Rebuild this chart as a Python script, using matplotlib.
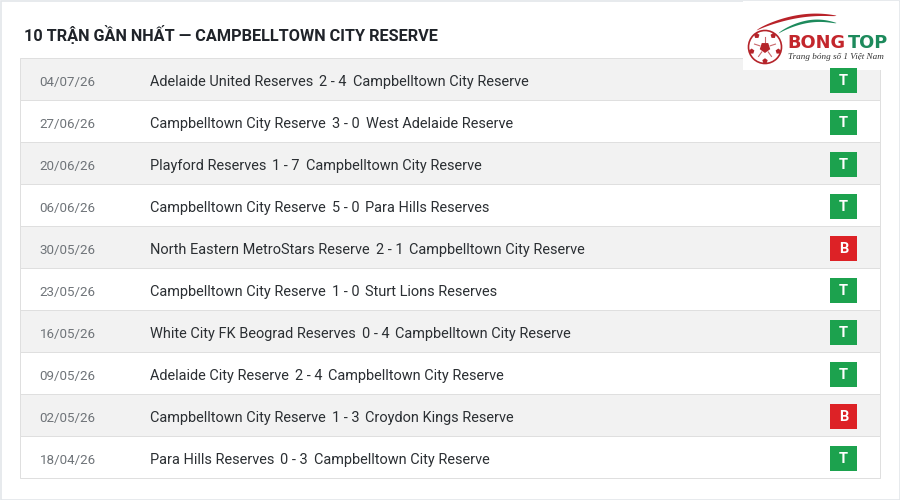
import numpy as np
import matplotlib
matplotlib.use('Agg')
import matplotlib.pyplot as plt
from matplotlib.patches import Rectangle, Circle, RegularPolygon

plt.rcParams['font.family'] = ['Roboto', 'DejaVu Sans']

TITLE = "10 TRẬN GẦN NHẤT — CAMPBELLTOWN CITY RESERVE"
dates = ["04/07/26", "27/06/26", "20/06/26", "06/06/26", "30/05/26",
         "23/05/26", "16/05/26", "09/05/26", "02/05/26", "18/04/26"]
home = ["Adelaide United Reserves", "Campbelltown City Reserve", "Playford Reserves",
        "Campbelltown City Reserve", "North Eastern MetroStars Reserve",
        "Campbelltown City Reserve", "White City FK Beograd Reserves",
        "Adelaide City Reserve", "Campbelltown City Reserve", "Para Hills Reserves"]
scores = ["2 - 4", "3 - 0", "1 - 7", "5 - 0", "2 - 1", "1 - 0", "0 - 4", "2 - 4", "1 - 3", "0 - 3"]
away = ["Campbelltown City Reserve", "West Adelaide Reserve", "Campbelltown City Reserve",
        "Para Hills Reserves", "Campbelltown City Reserve", "Sturt Lions Reserves",
        "Campbelltown City Reserve", "Campbelltown City Reserve", "Croydon Kings Reserve",
        "Campbelltown City Reserve"]
results = ["T", "T", "T", "T", "B", "T", "T", "T", "B", "T"]

GREEN = '#1ca24e'
RED = '#dd2226'
BADGE = {"T": GREEN, "B": RED}


def draw_logo(ax):
    ax.add_patch(Rectangle((743, 1), 156, 69, fc='white', ec='none', zorder=5))
    # swooshes over the ball
    t = np.linspace(0, 1, 60)
    x = 756 + (836 - 756) * t
    y = 30 - 20 * np.sin(t * np.pi * 0.62) ** 0.8 + 4 * t
    ax.fill_between(x, y, y + 3 * np.sin(t * np.pi) ** 0.5, color='#b92229', lw=0, zorder=6)
    x = 778 + (836 - 778) * t
    y = 33 - 16 * np.sin(t * np.pi * 0.7) ** 0.8 + 3 * t
    ax.fill_between(x, y, y + 2.6 * np.sin(t * np.pi) ** 0.5, color='#1d8a5c', lw=0, zorder=6)
    # ball
    ax.add_patch(Circle((765, 47), 16.5, fc='white', ec='#b5242a', lw=1.2, zorder=6))
    ax.add_patch(RegularPolygon((765, 47.5), 5, radius=5.5, fc='#b5242a', ec='none', zorder=7))
    for a in np.arange(5) * 2 * np.pi / 5:
        dx, dy = np.sin(a), -np.cos(a)
        ax.plot([765 + 5.5 * dx, 765 + 11 * dx], [47.5 + 5.5 * dy, 47.5 + 11 * dy],
                color='#c9686c', lw=0.8, zorder=7)
        b = a + np.pi / 5
        px, py = 765 + 14 * np.sin(b), 47 - 14 * np.cos(b)
        ax.add_patch(RegularPolygon((px, py), 5, radius=2.8, orientation=b, fc='#b5242a', ec='none', zorder=7))
    ax.text(787.5, 41, "BONG", color='#c3262c', fontsize=12.8, fontweight='bold', family='DejaVu Sans',
            va='center_baseline', ha='left', zorder=8)
    ax.text(847.5, 41, "TOP", color='#1d8a5c', fontsize=12.8, fontweight='bold', family='DejaVu Sans',
            va='center_baseline', ha='left', zorder=8)
    ax.text(788, 57, "Trang bóng số 1 Việt Nam", color='#333333', fontsize=6.6, style='italic',
            family=['Liberation Serif', 'DejaVu Serif'], va='center', ha='left', zorder=8)


def main():
    fig = plt.figure(figsize=(9, 5), dpi=100, facecolor='white')
    ax = fig.add_axes([0, 0, 1, 1])
    ax.set_xlim(0, 900)
    ax.set_ylim(500, 0)
    ax.axis('off')
    rend = fig.canvas.get_renderer()

    # outer card border
    ax.add_patch(Rectangle((0.5, 0.5), 899, 499, fc='white', ec='#e3e6ea', lw=1.2))
    ax.text(24, 34, TITLE, fontsize=11.68, fontweight='bold', color='#1f2329', va='center', ha='left')

    row_h = 42
    top = 58
    for i, d in enumerate(dates):
        y = top + i * row_h
        bg = '#f2f2f2' if i % 2 == 0 else 'white'
        ax.add_patch(Rectangle((20, y), 860, row_h, fc=bg, ec='#dfdfdf', lw=0.72, zorder=1))
        cy = y + row_h / 2
        ax.text(39.7, cy + 3.6, d, fontsize=9.6, color='#6f7479', va='center', ha='left', zorder=2)
        # home, score and away are placed one after the other with a 6px gap
        x = 150
        for part in (home[i], scores[i], away[i]):
            txt = ax.text(x, cy + 3.2, part, fontsize=10.45, color='#2b2f33', va='center', ha='left', zorder=2)
            x = txt.get_window_extent(rend).x1 + 6
        ax.add_patch(Rectangle((830, cy - 11), 27, 25, fc=BADGE[results[i]], ec='none', zorder=6))
        ax.text(843.5, cy + 2, results[i], fontsize=10.5, fontweight='bold', color='white',
                va='center', ha='center', zorder=7)

    draw_logo(ax)
    fig.savefig('out.png', dpi=100)


if __name__ == '__main__':
    main()
